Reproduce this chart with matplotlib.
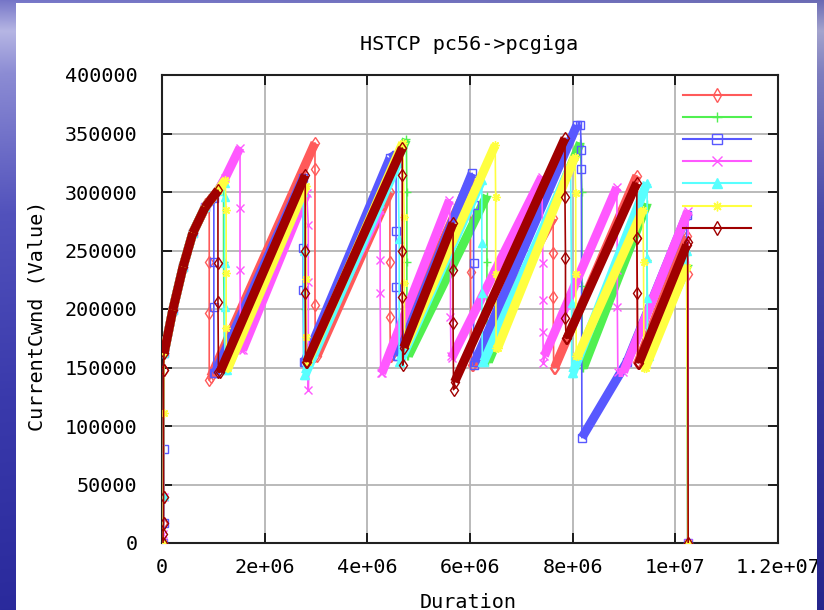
import matplotlib
matplotlib.use('Agg')
import matplotlib.pyplot as plt
from matplotlib.lines import Line2D
from matplotlib.patches import Rectangle
import numpy as np

# == data: x in millions, y in thousands ==

red_x = [0.02, 0.02, 0.03, 0.03, 0.04, 0.21, 0.41, 0.6, 0.84, 0.92, 0.92, 0.92, 0.92, 0.95, 2.98, 2.98, 2.98, 2.99,
         3.02, 4.44, 4.44, 4.44, 4.45, 4.47, 6.00, 6.01, 6.01, 6.03, 6.06, 7.62, 7.62, 7.62, 7.63, 7.65, 9.25, 9.25,
         9.26, 9.28, 10.22, 10.24, 10.25]
red_y = [0, 17, 39, 148, 162, 199, 236, 265, 287, 293, 240, 197, 139, 142, 342, 320, 203, 160,
         160, 300, 240, 193, 160, 160, 310, 283, 232, 152, 152, 278, 248, 210, 150, 150, 314, 261,
         155, 155, 262, 230, 0]

green_x = [0.02, 0.03, 0.04, 0.21, 0.41, 0.6, 0.84, 1.09, 1.2, 1.2, 1.21, 1.22, 1.24, 2.78, 2.78, 2.79, 2.80,
           2.82, 4.76, 4.77, 4.77, 4.77, 4.78, 4.80, 6.33, 6.33, 6.33, 6.34, 6.36, 8.15, 8.18, 8.18, 8.19,
           8.21, 9.45, 9.45, 9.46, 9.47, 10.24, 10.25]
green_y = [0, 40, 162, 199, 236, 265, 287, 301, 309, 240, 200, 150, 150, 305, 250, 200, 156,
           156, 345, 300, 240, 200, 160, 160, 297, 240, 200, 155, 155, 342, 300, 220, 150,
           150, 290, 242, 160, 160, 238, 0]

blue_x = [0.02, 0.03, 0.03, 0.04, 0.21, 0.41, 0.6, 0.84, 1.01, 1.01, 1.01, 1.01, 1.03, 2.75, 2.75, 2.75, 2.76,
          2.78, 4.44, 4.56, 4.56, 4.56, 4.57, 4.59, 6.04, 6.07, 6.07, 6.07, 6.10, 8.08, 8.15, 8.17, 8.17, 8.18,
          9.06, 10.22, 10.24]
blue_y = [0, 17, 80, 162, 199, 236, 265, 287, 295, 240, 202, 145, 145, 312, 252, 216, 155,
          155, 329, 332, 267, 219, 160, 160, 316, 289, 239, 152, 155, 357, 357, 336, 320, 90,
          155, 280, 0]

magenta_x = [0.02, 0.02, 0.03, 0.04, 0.21, 0.41, 0.6, 0.84, 1.09, 1.23, 1.52, 1.52, 1.52, 1.53, 1.57, 2.82,
             2.85, 2.85, 2.85, 2.86, 2.88, 4.25, 4.25, 4.25, 4.26, 4.28, 5.60, 5.62, 5.62, 5.63, 5.64, 7.40,
             7.42, 7.42, 7.42, 7.43, 7.45, 8.86, 8.87, 8.87, 8.88, 8.99, 10.25, 10.25]
magenta_y = [0, 8, 39, 162, 199, 236, 265, 287, 301, 312, 338, 286, 233, 165, 165, 299,
             272, 223, 131, 160, 160, 285, 242, 214, 145, 145, 293, 253, 193, 160, 158, 313,
             239, 208, 180, 154, 160, 304, 233, 202, 146, 146, 284, 0]

cyan_x = [0.02, 0.03, 0.04, 0.21, 0.41, 0.6, 0.84, 1.09, 1.22, 1.22, 1.22, 1.22, 1.23, 1.26, 2.75, 2.76, 2.76,
          2.79, 4.60, 4.62, 4.62, 4.64, 6.23, 6.23, 6.23, 6.24, 6.27, 7.96, 7.98, 7.98, 8.00, 9.45, 9.45,
          9.45, 9.46, 9.48, 10.22, 10.24]
cyan_y = [0, 40, 162, 199, 236, 265, 287, 301, 308, 296, 239, 202, 148, 148, 300, 250, 144,
          144, 325, 260, 155, 155, 310, 256, 214, 155, 155, 322, 205, 145, 145, 308, 244,
          209, 160, 160, 250, 0]

yellow_x = [0.02, 0.03, 0.04, 0.21, 0.41, 0.6, 0.84, 1.09, 1.23, 1.25, 1.25, 1.25, 1.26, 1.29, 2.80, 2.81,
            2.81, 2.82, 2.84, 4.69, 4.72, 4.72, 4.73, 4.76, 6.49, 6.50, 6.50, 6.51, 6.54, 8.04, 8.06, 8.06,
            8.07, 8.10, 9.37, 9.38, 9.39, 9.42, 10.22, 10.24]
yellow_y = [0, 111, 162, 199, 236, 265, 287, 301, 310, 285, 231, 184, 150, 150, 305, 226,
            176, 155, 155, 342, 279, 222, 170, 170, 340, 296, 230, 167, 167, 330, 299, 230,
            160, 160, 285, 240, 150, 150, 236, 0]

darkred_x = [0.02, 0.02, 0.03, 0.03, 0.03, 0.04, 0.21, 0.41, 0.6, 0.84, 1.09, 1.09, 1.09, 1.10, 1.13, 2.79,
             2.79, 2.79, 2.80, 2.82, 4.68, 4.68, 4.68, 4.68, 4.69, 4.71, 5.67, 5.67, 5.67, 5.68, 5.70, 7.85,
             7.85, 7.86, 7.86, 7.87, 7.89, 9.25, 9.25, 9.26, 9.27, 9.29, 10.22, 10.24, 10.25]
darkred_y = [0, 8, 17, 39, 148, 162, 199, 236, 265, 287, 301.5, 239, 206, 146, 146, 314.5,
             250, 214, 155, 155, 337.6, 314.5, 250, 210, 152, 167, 273.5, 233, 188, 131, 137.6, 346,
             296, 244, 192, 175, 175, 307.7, 261, 214, 154, 154, 254.7, 257, 0]

x_ticks = [0, 2e6, 4e6, 6e6, 8e6, 1e7, 1.2e7]
x_tick_labels = ['0', '2e+06', '4e+06', '6e+06', '8e+06', '1e+07', '1.2e+07']
y_ticks = [0, 50000, 100000, 150000, 200000, 250000, 300000, 350000, 400000]
y_tick_labels = ['0', '50000', '100000', '150000', '200000', '250000', '300000', '350000', '400000']

series = [
    (red_x, red_y, '#ff5a5a', 'd'),
    (green_x, green_y, '#50f050', '+'),
    (blue_x, blue_y, '#5858ff', 's'),
    (magenta_x, magenta_y, '#ff58ff', 'x'),
    (cyan_x, cyan_y, '#58ffff', '^'),
    (yellow_x, yellow_y, '#ffff40', (8, 2, 0)),
    (darkred_x, darkred_y, '#a00000', 'd'),
]

W, H = 824, 610
font = 'DejaVu Sans Mono'
fs = 14.5

fig = plt.figure(figsize=(W / 100, H / 100), dpi=100)

# slide background (blue gradient) and white panel
t = np.linspace(0, 1, H)
stops = [0.0, 0.05, 0.12, 0.35, 0.65, 1.0]
rgb = [(118, 118, 200), (182, 182, 228), (140, 140, 212), (82, 82, 188), (58, 58, 172), (42, 42, 156)]
col = np.stack([np.interp(t, stops, [c[k] for c in rgb]) for k in range(3)], axis=1) / 255.0
bg = np.repeat(col[:, None, :], W, axis=1)
shade = np.linspace(1.0, 0.9, W)[None, :, None]
bg = np.clip(bg * shade, 0, 1)
fig.figimage(bg, xo=0, yo=0, zorder=-3, origin='upper')
fig.patches.append(Rectangle((16 / W, 0), (817 - 16) / W, (H - 3) / H, transform=fig.transFigure,
                             facecolor='white', edgecolor='none', zorder=-2))
# right strip drawn on top so it clips the last tick label like the slide does
fig.figimage(bg[:, 817:], xo=817, yo=0, zorder=5, origin='upper')

ax = fig.add_axes([162 / W, (H - 543) / H, (778 - 162) / W, (543 - 75) / H])

for xs, ys, c, m in series:
    x = np.array(xs) * 1e6
    y = np.array(ys) * 1e3
    mfc = c if m == '^' else 'none'
    ax.plot(x, y, color=c, lw=1.2, marker=m, ms=6, mfc=mfc, mew=1.0, zorder=3)
    # dense sample stretches show up as a thick band
    for i in range(len(xs) - 1):
        if xs[i + 1] - xs[i] > 0.05:
            ax.plot(x[i:i + 2], y[i:i + 2], color=c, lw=6.5, solid_capstyle='butt', zorder=3)

ax.set_xlim(0, 1.2e7)
ax.set_ylim(0, 400000)
ax.set_xticks(x_ticks)
ax.set_xticklabels(x_tick_labels)
ax.set_yticks(y_ticks)
ax.set_yticklabels(y_tick_labels)
ax.tick_params(direction='in', length=7, width=1.2, top=True, right=True, color='black', labelsize=fs)
ax.tick_params(axis='x', pad=11)
ax.tick_params(axis='y', pad=17.5)
for lab in ax.get_xticklabels() + ax.get_yticklabels():
    lab.set_family(font)
ax.grid(True, color='#b4b4b4', lw=1.3, zorder=1)
ax.set_axisbelow(True)
for s in ax.spines.values():
    s.set_linewidth(1.5)
    s.set_color('#202020')

handles = []
for xs, ys, c, m in series:
    mfc = c if m == '^' else 'none'
    handles.append(Line2D([], [], color=c, lw=1.5, marker=m, ms=7, mfc=mfc, mew=1.0))
ax.legend(handles, [''] * len(handles), loc='upper right', bbox_to_anchor=(0.956, 0.971),
          frameon=False, handlelength=4.9, handletextpad=0, borderpad=0, borderaxespad=0,
          handleheight=0.7, labelspacing=0.59, fontsize=10)

fig.text(469 / W, 1 - 45 / H, 'HSTCP pc56->pcgiga', ha='center', va='center', family=font, fontsize=fs)
fig.text(468 / W, 1 - 602 / H, 'Duration', ha='center', va='center', family=font, fontsize=fs)
fig.text(37 / W, 1 - 316 / H, 'CurrentCwnd (Value)', ha='center', va='center', rotation=90,
         family=font, fontsize=fs)

fig.savefig('out.png', dpi=100)
